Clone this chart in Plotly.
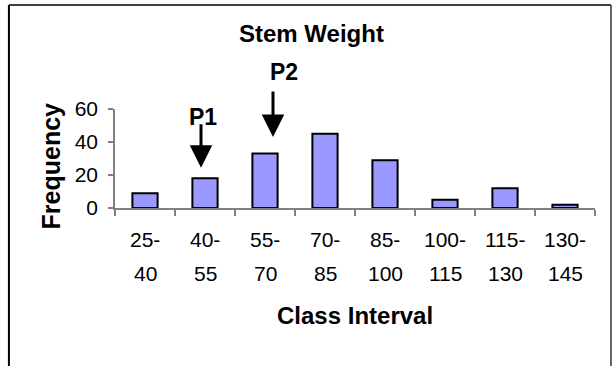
import plotly.graph_objects as go

categories = ["25-40", "40-55", "55-70", "70-85", "85-100", "100-115", "115-130", "130-145"]
frequency = [9, 18, 33, 45, 29, 5, 12, 2]
label_top = ["25-", "40-", "55-", "70-", "85-", "100-", "115-", "130-"]
label_bottom = ["40", "55", "70", "85", "100", "115", "130", "145"]
y_ticks = [0, 20, 40, 60]

FONT = "Liberation Sans, Arial, sans-serif"

fig = go.Figure()
fig.add_trace(go.Bar(
    x=categories, y=frequency, width=0.42,
    marker=dict(color="#9999FF", line=dict(color="black", width=2)),
))

annotations = []
for c, t, b in zip(categories, label_top, label_bottom):
    annotations.append(dict(x=c, y=-0.3166, xref="x", yref="paper", text=t, showarrow=False,
                            font=dict(family=FONT, size=21, color="black"), yanchor="middle"))
    annotations.append(dict(x=c, y=-0.658, xref="x", yref="paper", text=b, showarrow=False,
                            font=dict(family=FONT, size=21, color="black"), yanchor="middle"))

annotations.append(dict(x=categories[1], y=0.92, xref="x", yref="paper", text="<b>P1</b>", showarrow=False,
                        xshift=-2, font=dict(family=FONT, size=23, color="black"), yanchor="middle"))
annotations.append(dict(x=categories[2], y=1.372, xref="x", yref="paper", text="<b>P2</b>", showarrow=False,
                        xshift=19, font=dict(family=FONT, size=23, color="black"), yanchor="middle"))
# arrows
annotations.append(dict(x=categories[1], y=24.4, xref="x", yref="y", text="", showarrow=True,
                        ax=0, ay=-45, xshift=-4, arrowhead=2, arrowwidth=3, arrowsize=1.5,
                        arrowcolor="black", standoff=0))
annotations.append(dict(x=categories[2], y=43.1, xref="x", yref="y", text="", showarrow=True,
                        ax=0, ay=-47, xshift=8, arrowhead=2, arrowwidth=3, arrowsize=1.5,
                        arrowcolor="black", standoff=0))

annotations.append(dict(x=0.5, y=-1.085, xref="paper", yref="paper", text="<b>Class Interval</b>",
                        showarrow=False, font=dict(family=FONT, size=24, color="black"), yanchor="middle"))
annotations.append(dict(x=-0.134, y=0.427, xref="paper", yref="paper", text="<b>Frequency</b>",
                        showarrow=False, textangle=-90, font=dict(family=FONT, size=25, color="black"),
                        xanchor="center", yanchor="middle"))
annotations.append(dict(x=0.41, y=1.76, xref="paper", yref="paper", text="<b>Stem Weight</b>",
                        showarrow=False, font=dict(family=FONT, size=24, color="black"),
                        xanchor="center", yanchor="middle"))

shapes = [
    dict(type="line", xref="paper", yref="paper", x0=-0.221, x1=-0.221, y0=2.05, y1=-1.6,
         line=dict(color="black", width=2)),
    dict(type="line", xref="paper", yref="paper", x0=-0.221, x1=1.0333, y0=2.05, y1=2.05,
         line=dict(color="black", width=1.5)),
    dict(type="line", xref="paper", yref="paper", x0=1.0333, x1=1.0333, y0=2.05, y1=-1.6,
         line=dict(color="#333333", width=1.5)),
]

fig.update_layout(
    width=613, height=366,
    margin=dict(l=115, r=18, t=109, b=157.5),
    paper_bgcolor="white", plot_bgcolor="white",
    showlegend=False,
    bargap=0.58,
    annotations=annotations,
    shapes=shapes,
    xaxis=dict(type="category", range=[-0.5, 7.5], showline=True, linecolor="#808080", linewidth=1.5,
               ticks="outside", ticklen=6, tickcolor="#808080", tickwidth=1.5, tickson="boundaries",
               showticklabels=False, showgrid=False, zeroline=False, fixedrange=True),
    yaxis=dict(range=[0, 60], tickvals=y_ticks, showline=True, linecolor="#808080", linewidth=1.5,
               ticks="outside", ticklen=5, tickcolor="#808080", tickwidth=1.5,
               tickfont=dict(family=FONT, size=21, color="black"), showgrid=False, zeroline=False,
               ticklabelstandoff=6),
)

fig.write_html("out.html")
